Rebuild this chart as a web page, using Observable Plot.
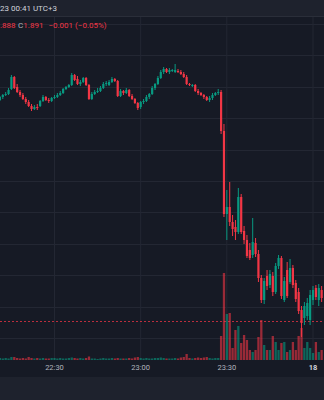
<!DOCTYPE html>
<html><head><meta charset="utf-8">
<script src="https://cdn.jsdelivr.net/npm/d3@7"></script>
<script src="https://cdn.jsdelivr.net/npm/@observablehq/plot@0.6"></script>
<style>
html,body{margin:0;padding:0;background:#161a25;width:324px;height:400px;overflow:hidden;font-family:Roboto,"Noto Sans",sans-serif;}
#top{position:absolute;left:0;top:0;width:324px;height:16px;background:#1e222d;border-bottom:1px solid #2a2e39;color:#d1d4dc;font-size:8px;line-height:17px;white-space:nowrap;}
#chart{position:absolute;left:0;top:17px;width:324px;height:360px;}
#chart svg{position:absolute;left:0;top:0;}
#legend{position:absolute;left:0;top:21px;font-size:8px;line-height:10px;white-space:nowrap;z-index:5;}
#legend .r{color:#f23645;}
#legend .g{color:#b2b5be;}
#bottom{position:absolute;left:0;top:377px;width:324px;height:23px;background:#1e222d;}
</style></head>
<body>
<div id="top">23 00:41 UTC+3</div>
<div id="chart"></div>
<div id="legend"><span class="r">.888</span><span class="g" style="margin-left:2.5px">C</span><span class="r">1.891</span><span class="r" style="margin-left:5px">−0.001 (−0.05%)</span></div>
<div id="bottom"></div>
<script>
// one-minute candles, 22:11 … 00:03
const openP = [
2.112,2.115,2.117,2.118,2.123,2.135,2.125,2.120,2.117,2.113,
2.110,2.106,2.103,2.105,2.106,2.111,2.115,2.112,2.111,2.114,
2.115,2.117,2.119,2.123,2.125,2.127,2.137,2.133,2.128,2.130,
2.134,2.127,2.113,2.118,2.120,2.121,2.124,2.128,2.127,2.130,
2.133,2.131,2.116,2.121,2.119,2.122,2.116,2.113,2.109,2.105,
2.110,2.111,2.115,2.118,2.124,2.128,2.134,2.140,2.143,2.140,
2.141,2.140,2.141,2.140,2.138,2.135,2.128,2.126,2.127,2.121,
2.119,2.117,2.115,2.112,2.114,2.117,2.119,2.120,2.081,1.998,
2.005,1.990,1.985,1.980,2.015,1.981,1.972,1.962,1.957,1.969,
1.958,1.934,1.912,1.936,1.927,1.936,1.920,1.946,1.954,1.912,
1.942,1.930,1.944,1.929,1.920,1.902,1.894,1.896,1.892,1.912,
1.924,1.912,1.922];
const closeP = [
2.115,2.117,2.118,2.122,2.135,2.124,2.120,2.117,2.113,2.110,
2.106,2.103,2.105,2.104,2.111,2.115,2.112,2.111,2.114,2.115,
2.117,2.119,2.123,2.125,2.127,2.137,2.132,2.128,2.130,2.134,
2.127,2.113,2.118,2.120,2.121,2.124,2.128,2.129,2.130,2.133,
2.131,2.116,2.121,2.119,2.122,2.116,2.113,2.109,2.104,2.110,
2.111,2.115,2.118,2.124,2.128,2.134,2.140,2.143,2.140,2.142,
2.142,2.142,2.140,2.138,2.135,2.128,2.127,2.127,2.121,2.119,
2.117,2.115,2.112,2.114,2.117,2.119,2.120,2.081,1.998,2.005,
1.990,1.983,1.980,2.015,1.980,1.972,1.956,1.954,1.970,1.958,
1.934,1.912,1.931,1.926,1.938,1.920,1.946,1.954,1.916,1.931,
1.916,1.944,1.927,1.913,1.901,1.889,1.906,1.909,1.917,1.922,
1.915,1.924,1.914];
const highP = [
2.116,2.118,2.120,2.124,2.137,2.136,2.128,2.122,2.119,2.115,
2.112,2.108,2.107,2.108,2.112,2.117,2.116,2.114,2.115,2.117,
2.119,2.121,2.124,2.126,2.128,2.139,2.138,2.136,2.132,2.135,
2.135,2.128,2.120,2.122,2.124,2.126,2.130,2.131,2.132,2.135,
2.134,2.132,2.123,2.122,2.124,2.123,2.118,2.114,2.110,2.111,
2.113,2.117,2.119,2.126,2.129,2.136,2.142,2.145,2.144,2.144,
2.143,2.148,2.143,2.142,2.140,2.137,2.129,2.128,2.128,2.123,
2.120,2.118,2.116,2.116,2.119,2.120,2.123,2.122,2.088,2.022,
2.030,1.997,1.992,2.024,2.018,1.986,1.977,1.969,1.994,1.974,
1.962,1.937,1.934,1.942,1.942,1.940,1.949,1.957,1.956,1.935,
1.950,1.953,1.947,1.932,1.924,1.906,1.910,1.914,1.922,1.926,
1.927,1.928,1.926];
const lowP = [
2.111,2.113,2.116,2.117,2.122,2.123,2.119,2.115,2.112,2.108,
2.105,2.101,2.102,2.102,2.105,2.110,2.111,2.109,2.110,2.113,
2.114,2.116,2.118,2.122,2.124,2.126,2.131,2.127,2.126,2.129,
2.126,2.112,2.112,2.117,2.119,2.120,2.123,2.126,2.126,2.129,
2.130,2.115,2.115,2.117,2.118,2.115,2.112,2.108,2.102,2.103,
2.108,2.110,2.113,2.117,2.122,2.127,2.133,2.138,2.139,2.138,
2.140,2.139,2.139,2.137,2.134,2.127,2.126,2.125,2.120,2.117,
2.116,2.113,2.111,2.110,2.112,2.116,2.117,2.078,1.995,1.972,
1.986,1.976,1.972,1.978,1.978,1.968,1.954,1.952,1.954,1.955,
1.930,1.909,1.908,1.922,1.924,1.916,1.918,1.943,1.913,1.910,
1.914,1.928,1.924,1.910,1.898,1.875,1.887,1.892,1.887,1.907,
1.912,1.906,1.910];
const volume = [
2,1.5,2,1.5,3,3,2,1.5,2,1.5,
3,2,1.5,2,1.5,2,1.5,1.5,2,2,
1.5,2,1.5,1.5,2,2.5,2,1.5,2,1.5,
2,3.5,1.5,1.5,1,1.5,2,1.5,1.5,2,
1.5,2,1.5,1.5,1.5,2,1.5,2.5,3,2,
1.5,2,1.5,1.5,2,2,2.5,2,1.5,1.5,
1.5,2,1.5,2.5,3,6,2,1.5,2,2.5,
2,2.5,3,2,1.5,2,2,24,87,46,
47,12,30,34,17,25,20,10,8,10,
23,40,15,10,10,24,18,10,17,18,
8,10,18,10,24,32,12,18,12,7,
18,8,10];
const xTicks = [new Date(2023,11,17,22,30), new Date(2023,11,17,23,0), new Date(2023,11,17,23,30), new Date(2023,11,18,0,0)];
const xTickLabels = ["22:30","23:00","23:30","18"];
const gridPrices = [2.188,2.157,2.125,2.094,2.062,2.031,2.000,1.968,1.937,1.905,1.874];
const lastPrice = 1.891;

const times = d3.timeMinute.range(new Date(2023,11,17,22,11), new Date(2023,11,18,0,4));
const bars = times.map((t,i)=>({t, o:openP[i], c:closeP[i], h:highP[i], l:lowP[i], v:volume[i], up: closeP[i] >= openP[i]}));
const tickData = xTicks.map((t,i)=>({t, label:xTickLabels[i], day: i===3}));

const UP = "#089981", DOWN = "#f23645", GRID = "#232733";
const base = {
  width:324, height:360, marginTop:0, marginRight:0, marginLeft:0, marginBottom:17,
  style:{background:"transparent", overflow:"hidden"},
  x:{type:"time", domain:[new Date(2023,11,17,22,11,12), new Date(2023,11,18,0,4,0)], axis:null}
};
const priceY = {domain:[1.852, 2.195], axis:null};

const layerGrid = Plot.plot({...base, y:priceY, marks:[
  Plot.ruleY(gridPrices, {stroke:GRID, strokeWidth:1}),
  Plot.ruleX(xTicks, {stroke:GRID, strokeWidth:1}),
  Plot.text(tickData.filter(d=>!d.day), {x:"t", text:"label", frameAnchor:"bottom", dy:9, fill:"#b2b5be", fontSize:7.5, fontFamily:"Roboto"}),
  Plot.text(tickData.filter(d=>d.day), {x:"t", text:"label", frameAnchor:"bottom", dy:9, fill:"#d1d4dc", fontSize:7.5, fontWeight:"bold", fontFamily:"Roboto"})
]});

const layerVol = Plot.plot({...base, y:{domain:[0,343], axis:null}, marks:[
  Plot.ruleX(bars, {x:"t", y1:0, y2:"v", stroke:d=>d.up?UP:DOWN, strokeOpacity:0.6, strokeWidth:2.3})
]});

const layerCandles = Plot.plot({...base, y:priceY, marks:[
  Plot.ruleY([lastPrice], {stroke:DOWN, strokeOpacity:0.75, strokeDasharray:"2,2", strokeWidth:1}),
  Plot.ruleX(bars, {x:"t", y1:"l", y2:"h", stroke:d=>d.up?UP:DOWN, strokeWidth:1}),
  Plot.ruleX(bars, {x:"t", y1:"o", y2:"c", stroke:d=>d.up?UP:DOWN, strokeWidth:2.2})
]});

const chart = document.getElementById("chart");
chart.append(layerGrid, layerVol, layerCandles);
</script>
</body></html>
